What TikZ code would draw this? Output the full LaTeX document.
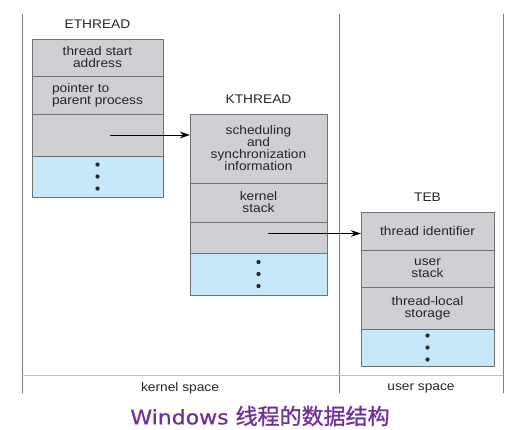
\documentclass[tikz,border=0pt]{standalone}
\usepackage{fontspec}
\setmainfont{Liberation Sans}[FakeStretch=1.1]
\newfontfamily\titlelatin{DejaVu Sans}[FakeStretch=1.1,FakeBold=0.8]
\newfontfamily\titlecjk{Noto Sans CJK SC}[FakeBold=1.2]
\usepackage{tikz}
\usepackage{xcolor}
\usetikzlibrary{arrows.meta,calc,positioning}
\definecolor{cellgray}{RGB}{208,208,212}
\definecolor{cellblue}{RGB}{198,232,248}
\definecolor{cellline}{RGB}{112,112,112}
\definecolor{titlepurple}{RGB}{112,48,160}

\tikzset{
	cell/.style={draw=cellline,line width=0.8pt,fill=cellgray,inner sep=0pt,outer sep=0pt,
		align=center,text=black!85,font=\fontsize{12.5}{12}\selectfont},
	dotcell/.style={cell,fill=cellblue},
	boxname/.style={inner sep=0pt,text=black!85,font=\fontsize{12.5}{12}\selectfont},
	spaceline/.style={line width=0.8pt},
	pointer/.style={line width=0.9pt,-{Stealth[length=10pt,width=6.5pt]}}
}

\begin{document}
\begin{tikzpicture}[x=1pt,y=-1pt,line cap=round,line join=round]
		\useasboundingbox (0,0) rectangle (529,429);
		% kernel space / user space
		\draw[spaceline,black!50] (22,14) -- (22,393);
		\draw[spaceline,black!50] (339,14) -- (339,393);
		\draw[spaceline,black!50] (503,14) -- (503,393);
		\draw[spaceline,black!25] (22,375) -- (503,375);
		\node[boxname] (kspace) at (180,388) {kernel space};
		\node[boxname] (uspace) at (421,388) {user space};

		% ETHREAD
		\node[cell,minimum width=131pt,minimum height=37pt,anchor=north west] (e1) at (32,39) {thread start\\address};
		\node[cell,minimum width=131pt,minimum height=38pt,align=left,below=0pt of e1] (e2) {pointer to\\parent process};
		\node[cell,minimum width=131pt,minimum height=42pt,below=0pt of e2] (e3) {};
		\node[dotcell,minimum width=131pt,minimum height=41pt,below=0pt of e3] (e4) {};
		\node[boxname,above=10pt of e1] (ename) {ETHREAD};

		% KTHREAD
		\node[cell,minimum width=137pt,minimum height=69pt,anchor=north west] (k1) at (190,114) {scheduling\\and\\synchronization\\information};
		\node[cell,minimum width=137pt,minimum height=39pt,below=0pt of k1] (k2) {kernel\\stack};
		\node[cell,minimum width=137pt,minimum height=31pt,below=0pt of k2] (k3) {};
		\node[dotcell,minimum width=137pt,minimum height=42pt,below=0pt of k3] (k4) {};
		\node[boxname,above=10pt of k1] (kname) {KTHREAD};

		% TEB
		\node[cell,minimum width=133pt,minimum height=38pt,anchor=north west] (t1) at (361,212) {thread identifier};
		\node[cell,minimum width=133pt,minimum height=37pt,below=0pt of t1] (t2) {user\\stack};
		\node[cell,minimum width=133pt,minimum height=42pt,below=0pt of t2] (t3) {thread-local\\storage};
		\node[dotcell,minimum width=133pt,minimum height=37pt,below=0pt of t3] (t4) {};
		\node[boxname,above=10pt of t1] (tname) {TEB};

		\foreach \c in {e4,k4,t4}
			\foreach \d in {-12,0,12}
				\fill[black!85] ($(\c.center)+(0,\d)$) circle (2.1pt);

		\draw[pointer] ($(e3.center)+(13,0)$) -- (k1.west |- e3.center);
		\draw[pointer] ($(k3.center)+(10,-4)$) -- (t1.west |- {$(k3.center)+(0,-4)$});

		\node[text=titlepurple] (caption) at (260,416) {\titlelatin\fontsize{20}{22}\selectfont Windows \titlecjk\fontsize{22}{22}\selectfont 线程的数据结构};
\end{tikzpicture}
\end{document}
